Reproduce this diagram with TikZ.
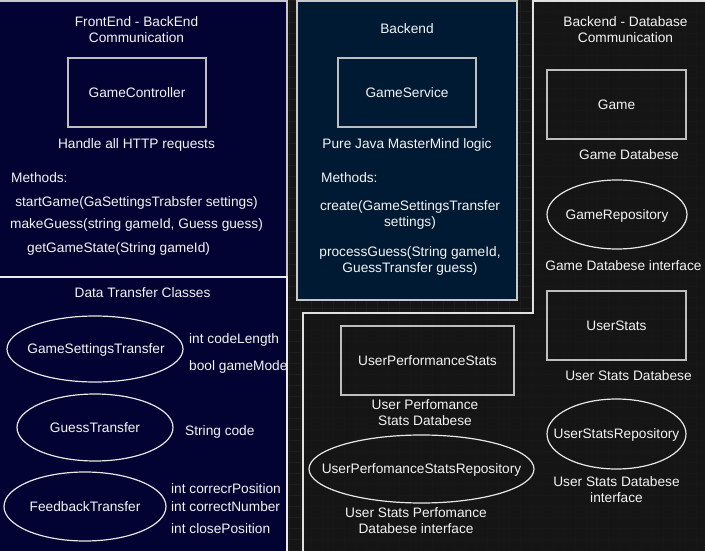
\documentclass[tikz,border=0pt]{standalone}
\usepackage{fontspec}
\setmainfont{Liberation Sans}
\usetikzlibrary{shapes.geometric}
\definecolor{bgc}{HTML}{151515}
\definecolor{gridc}{HTML}{1D1D1D}
\definecolor{navyc}{HTML}{020233}
\definecolor{midc}{HTML}{001A33}
\definecolor{boxedge}{HTML}{BEBEBE}
\definecolor{elledge}{HTML}{E8E8E8}
\definecolor{paneledge}{HTML}{C8C8C8}
\definecolor{txtc}{HTML}{F4F4F4}
\tikzset{
  lbl/.style={text=txtc, font=\fontsize{13.7}{16.8}\selectfont, inner sep=0pt,
    text height=9.8pt, text depth=0pt, align=center},
  lblw/.style={lbl, anchor=west, align=left},
  boxn/.style={lbl, draw=boxedge, line width=1.5pt, rectangle},
  ellpath/.style={draw=elledge, line width=1.2pt},
  panel/.style={draw=paneledge, line width=1.5pt},
}
\begin{document}
\begin{tikzpicture}[x=1pt,y=-1pt]
\useasboundingbox (0,0) rectangle (705,551);
\fill[bgc] (0,0) rectangle (705,551);
\foreach \x in {3,14,...,705} \draw[gridc, line width=0.6pt] (\x,0) -- (\x,551);
\foreach \y in {0,11,...,551} \draw[gridc, line width=0.6pt] (0,\y) -- (705,\y);

% panels
\draw[panel, fill=navyc] (-2,1) rectangle (287,277);
\draw[panel, fill=navyc, draw=white!92!black] (-2,277) rectangle (287,553);
\draw[panel, fill=midc] (297,1) rectangle (517,300);
\fill[bgc, opacity=0.7] (303,553) -- (303,313) -- (533,313) -- (533,1) -- (707,1) -- (707,553) -- cycle;
\draw[panel, draw=white!88!black] (303,553) -- (303,313) -- (533,313) -- (533,1) -- (707,1);

% top-left panel
\node[lbl] (feTitle) at (136.5,38) {FrontEnd - BackEnd\\Communication};
\node[boxn, minimum width=138pt, minimum height=69pt] (gc) at (137,92.5) {GameController};
\node[lbl] (gcDesc) at (136.5,144) {Handle all HTTP requests};
\node[lblw] (gcMeth) at (11,178) {Methods:};
\node[lbl] (gcM1) at (136.5,201.5) {startGame(GaSettingsTrabsfer settings)};
\node[lbl] (gcM2) at (136.5,224) {makeGuess(string gameId, Guess guess)};
\node[lblw] (gcM3) at (27,247.5) {getGameState(String gameId)};

% middle panel
\node[lbl] (beTitle) at (407,29) {Backend};
\node[boxn, minimum width=138pt, minimum height=69pt] (gs) at (407,92.5) {GameService};
\node[lbl] (gsDesc) at (407,144) {Pure Java MasterMind logic};
\node[lblw] (gsMeth) at (321,178) {Methods:};
\node[lbl] (gsM1) at (410,222) {create(GameSettingsTransfer\\settings)};
\node[lbl] (gsM2) at (410,268) {processGuess(String gameId,\\GuessTransfer guess)};

% right panel
\node[lbl] (dbTitle) at (625.5,38) {Backend - Database\\Communication};
\node[boxn, minimum width=139pt, minimum height=69pt] (game) at (616.5,104.5) {Game};
\node[lbl] (gameDesc) at (629,155) {Game Databese};
\node[lbl] (gameRepo) at (617,214.5) {GameRepository};
\draw[ellpath] (gameRepo.center) ellipse [x radius=70, y radius=34.5];
\node[lbl] (gameRepoDesc) at (623.5,266) {Game Databese interface};
\node[boxn, minimum width=139pt, minimum height=69pt] (us) at (616.5,325.5) {UserStats};
\node[lbl] (usDesc) at (628.5,376) {User Stats Databese};
\node[lbl] (usRepo) at (616.5,434) {UserStatsRepository};
\draw[ellpath] (usRepo.center) ellipse [x radius=69.5, y radius=35];
\node[lbl] (usRepoDesc) at (616.5,498) {User Stats Databese\\interface};

% bottom-middle panel
\node[boxn, minimum width=173pt, minimum height=69pt] (ups) at (427.5,360.5) {UserPerformanceStats};
\node[lbl] (upsDesc) at (425,421) {User Perfomance\\Stats Databese};
\node[lbl] (upsRepo) at (421.5,469) {UserPerfomanceStatsRepository};
\draw[ellpath] (upsRepo.center) ellipse [x radius=112.5, y radius=34];
\node[lbl] (upsRepoDesc) at (416,529) {User Stats Perfomance\\Databese interface};

% bottom-left panel
\begin{scope}
\clip (-2,277) rectangle (286,553);
\node[lbl] (dtTitle) at (142.5,293) {Data Transfer Classes};
\node[lbl] (gst) at (96,349) {GameSettingsTransfer};
\draw[ellpath] (95,349) ellipse [x radius=88, y radius=33];
\node[lblw] (gstA) at (189,339) {int codeLength};
\node[lblw] (gstB) at (189,366) {bool gameMode};
\node[lbl] (gt) at (95,427.5) {GuessTransfer};
\draw[ellpath] (gt.center) ellipse [x radius=78, y radius=33.5];
\node[lblw] (gtA) at (185,431) {String code};
\node[lbl] (ft) at (85,506.5) {FeedbackTransfer};
\draw[ellpath] (ft.center) ellipse [x radius=81, y radius=34.5];
\node[lblw] (ftA) at (171,489) {int correcrPosition};
\node[lblw] (ftB) at (171,507) {int correctNumber};
\node[lblw] (ftC) at (171,529) {int closePosition};
\end{scope}
\draw[line width=1.5pt, draw=white!92!black] (287,277) -- (287,553);
\end{tikzpicture}
\end{document}
